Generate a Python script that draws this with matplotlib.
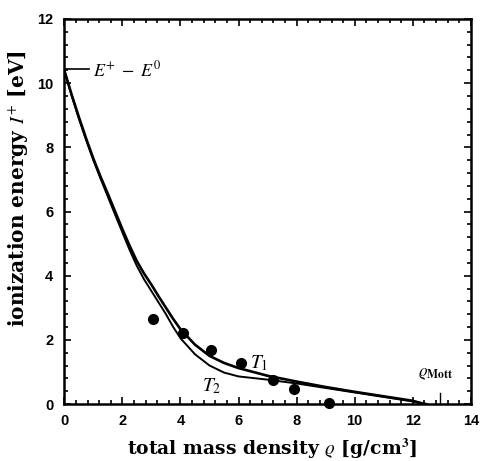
import matplotlib
matplotlib.use("Agg")
import matplotlib.pyplot as plt
from matplotlib.ticker import MultipleLocator

plt.rcParams['mathtext.fontset'] = 'stix'

# curve T1 (upper)
t1_rho = [0, 0.25, 0.5, 0.75, 1, 1.25, 1.5, 1.75, 2, 2.25, 2.5, 2.75, 3, 3.25, 3.5, 3.75, 4, 4.5, 5, 5.5, 6, 7, 8, 9, 10, 11, 12, 12.4]
t1_ion = [10.4, 9.65, 8.95, 8.28, 7.65, 7.08, 6.55, 6.0, 5.45, 4.93, 4.45, 4.06, 3.72, 3.35, 3.0, 2.65, 2.33, 1.85, 1.5, 1.28, 1.12, 0.88, 0.7, 0.53, 0.38, 0.24, 0.1, 0]

# curve T2 (lower)
t2_rho = [0, 0.25, 0.5, 0.75, 1, 1.25, 1.5, 1.75, 2, 2.25, 2.5, 2.75, 3, 3.25, 3.5, 3.75, 4, 4.5, 5, 5.5, 6, 7, 8, 9, 10, 11, 12, 12.5]
t2_ion = [10.4, 9.62, 8.9, 8.23, 7.6, 7.02, 6.46, 5.9, 5.35, 4.8, 4.3, 3.88, 3.52, 3.16, 2.8, 2.4, 2.05, 1.55, 1.2, 0.98, 0.86, 0.76, 0.64, 0.5, 0.36, 0.22, 0.08, 0]

# measured points
pts_rho = [3.05, 4.1, 5.05, 6.1, 7.2, 7.9, 9.1]
pts_ion = [2.65, 2.2, 1.68, 1.28, 0.75, 0.46, 0.03]

e_diff = 10.45
rho_mott = 12.95

fig = plt.figure(figsize=(4.82, 4.61), dpi=100)
ax = fig.add_axes([0.1334, 0.1236, 0.8436, 0.8352])

ax.plot(t1_rho, t1_ion, color='black', lw=1.9)
ax.plot(t2_rho, t2_ion, color='black', lw=1.4)
ax.plot(pts_rho, pts_ion, 'o', color='black', ms=7, clip_on=False, zorder=5)

# E+ - E0 marker
ax.plot([0, 0.85], [e_diff, e_diff], color='black', lw=1.2)
ax.text(1.0, e_diff - 0.05, r'$E^{+}\;-\;E^{0}$', fontsize=13, va='center', ha='left')

# Mott density marker
ax.plot([rho_mott, rho_mott], [0, 0.35], color='black', lw=1.0)
ax.text(12.8, 0.68, r'$\varrho_{\mathbf{Mott}}$', fontsize=12, ha='center', va='bottom')

ax.text(6.4, 1.28, r'$T_1$', fontsize=14, va='center', ha='left')
ax.text(4.75, 0.55, r'$T_2$', fontsize=14, va='center', ha='left')

ax.set_xlim(0, 14)
ax.set_ylim(0, 12)
ax.xaxis.set_major_locator(MultipleLocator(2))
ax.yaxis.set_major_locator(MultipleLocator(2))
ax.xaxis.set_minor_locator(MultipleLocator(0.4))
ax.yaxis.set_minor_locator(MultipleLocator(0.4))
ax.tick_params(which='both', direction='in', top=True, right=True, width=1.2)
ax.tick_params(which='major', length=5)
ax.tick_params(which='minor', length=3)
for lab in ax.get_xticklabels() + ax.get_yticklabels():
    lab.set_fontfamily('Liberation Sans')
    lab.set_fontweight('bold')
    lab.set_fontsize(10.5)
ax.tick_params(axis='x', pad=7)
ax.tick_params(axis='y', pad=8)
for s in ax.spines.values():
    s.set_linewidth(1.8)

ax.set_xlabel(r'total mass density $\varrho$ [g/cm$^\mathbf{3}$]', fontsize=13.5,
              fontfamily='DejaVu Serif', fontweight='bold')
ax.set_ylabel(r'ionization energy $I^{+}$ [eV]', fontsize=14.5,
              fontfamily='DejaVu Serif', fontweight='bold')
ax.xaxis.set_label_coords(0.512, -0.085)
ax.yaxis.set_label_coords(-0.085, 0.56)

fig.savefig('out.png', dpi=100)
